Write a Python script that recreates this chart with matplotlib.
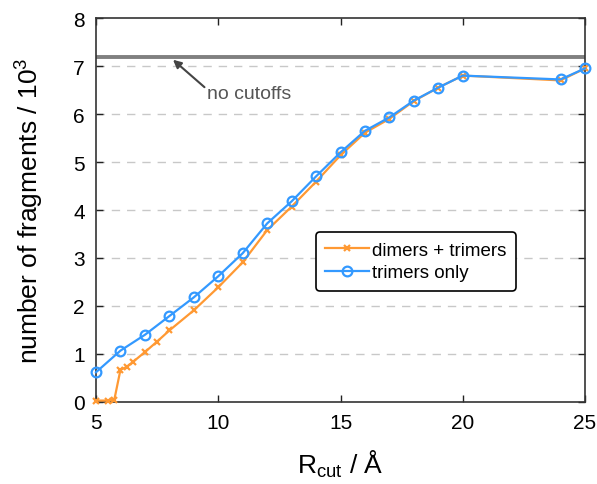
import matplotlib
matplotlib.use("Agg")
import matplotlib.pyplot as plt
from matplotlib.ticker import MultipleLocator

plt.rcParams['font.family'] = ['Liberation Sans', 'DejaVu Sans']
plt.rcParams['mathtext.fontset'] = 'custom'
plt.rcParams['mathtext.rm'] = 'Liberation Sans'

# Data (in units of 10^3 fragments)
x_dt = [5, 5.5, 5.75, 6, 6.25, 6.5, 7, 7.5, 8, 9, 10, 11, 12, 13, 14, 15, 16, 17, 18, 19, 20, 24, 25]
y_dt = [0.03, 0.03, 0.05, 0.67, 0.73, 0.83, 1.04, 1.26, 1.49, 1.91, 2.39, 2.91, 3.58, 4.07, 4.59, 5.14, 5.61, 5.90, 6.27, 6.55, 6.80, 6.70, 6.95]
x_t = [5, 6, 7, 8, 9, 10, 11, 12, 13, 14, 15, 16, 17, 18, 19, 20, 24, 25]
y_t = [0.62, 1.07, 1.40, 1.79, 2.18, 2.62, 3.10, 3.72, 4.18, 4.70, 5.20, 5.65, 5.93, 6.28, 6.55, 6.80, 6.72, 6.95]
no_cutoff = 7.18

orange = '#FF9933'
blue = '#3399FF'

fig = plt.figure(figsize=(5.97, 4.85), dpi=100)
ax = fig.add_axes([96/597, 1-403/485, (585-96)/597, (403-19)/485])

for yv in range(1, 8):
    ax.axhline(yv, color='#c8c8c8', lw=1.0, ls=(0, (6, 5)), zorder=0)
ax.axhline(no_cutoff, color='#808080', lw=2.8, zorder=1)

ax.plot(x_dt, y_dt, color=orange, lw=1.6, marker='x', ms=5, mew=1.6, label='dimers + trimers', zorder=3, clip_on=False)
ax.plot(x_t, y_t, color=blue, lw=1.6, marker='o', ms=7, mew=1.6, mfc='none', label='trimers only', zorder=4, clip_on=False)

ax.annotate('no cutoffs', xy=(8.15, no_cutoff - 0.05), xytext=(9.55, 6.42),
            fontsize=14, color='#555555', ha='left', va='center',
            arrowprops=dict(arrowstyle='-|>', color='#444444', lw=1.5, mutation_scale=12,
                            shrinkA=0, shrinkB=0, relpos=(0, 0.75)))

ax.set_xlim(5, 25)
ax.set_ylim(0, 8)
ax.xaxis.set_major_locator(MultipleLocator(5))
ax.yaxis.set_major_locator(MultipleLocator(1))
ax.tick_params(direction='in', top=True, right=True, labelsize=15, length=5, width=1, color='#222222', pad=8)
for s in ax.spines.values():
    s.set_linewidth(1.2)
    s.set_color('#333333')

ax.set_xlabel(r'R$_{\mathrm{cut}}$ / Å', fontsize=19, labelpad=11)
ax.set_ylabel(r'number of fragments / 10$^{3}$', fontsize=19, labelpad=20)

leg = ax.legend(loc='upper left', bbox_to_anchor=((316-96)/489, (403-233)/384), fontsize=13.5, frameon=True,
                fancybox=True, edgecolor='black', handlelength=2.3, borderpad=0.5, labelspacing=0.3,
                handletextpad=0.2, borderaxespad=0, framealpha=1)
leg.get_frame().set_linewidth(1.2)

fig.savefig('out.png', dpi=100)
